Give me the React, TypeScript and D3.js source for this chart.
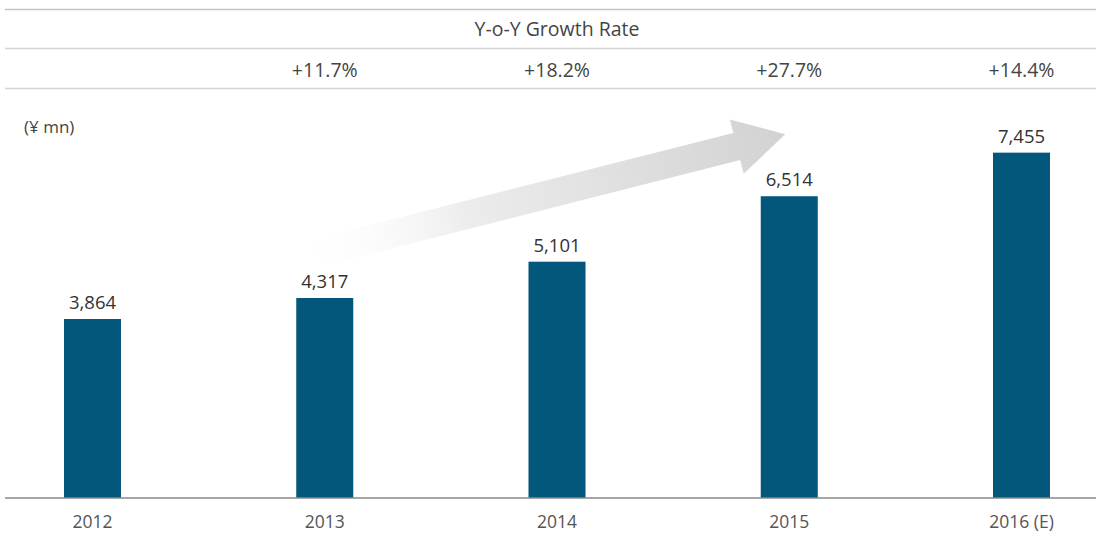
import * as d3 from 'd3'

const years = ['2012', '2013', '2014', '2015', '2016 (E)']
const sales = [3864, 4317, 5101, 6514, 7455]
const growth = ['', '+11.7%', '+18.2%', '+27.7%', '+14.4%']
const unitLabel = '(¥ mn)'
const headerTitle = 'Y-o-Y Growth Rate'

export default function App() {
  const W = 1096
  const H = 536
  const baseY = 498
  const barW = 57
  const font = "'Open Sans', sans-serif"

  const x = d3.scalePoint<string>().domain(years).range([92.5, 1021.5])
  const y = d3.scaleLinear().domain([0, 8000]).range([baseY, baseY - 370.6])

  // growth arrow, from 2013 bar up towards 2015
  const ax0 = (x('2013') as number) - 28
  const ay0 = y(sales[1]) - 40
  const ax1 = (x('2015') as number) - 4
  const ay1 = y(sales[3]) - 62
  const len = Math.hypot(ax1 - ax0, ay1 - ay0)
  const ang = (Math.atan2(ay1 - ay0, ax1 - ax0) * 180) / Math.PI
  const shaft = 14
  const head = 28
  const headLen = 50
  const arrowPath = `M0,${-shaft} L${len - headLen},${-shaft} L${len - headLen},${-head} L${len},0 L${len - headLen},${head} L${len - headLen},${shaft} L0,${shaft} Z`

  return (
    <svg width={W} height={H} style={{ position: 'absolute', left: 0, top: 0, background: '#fff' }}>
      <defs>
        <linearGradient id="arrowGrad" x1="0" y1="0" x2={len} y2="0" gradientUnits="userSpaceOnUse">
          <stop offset="0" stopColor="#ffffff" stopOpacity={0} />
          <stop offset="0.35" stopColor="#ececec" stopOpacity={1} />
          <stop offset="1" stopColor="#d2d2d2" />
        </linearGradient>
      </defs>

      {/* header table */}
      <line x1={5} x2={W} y1={9.5} y2={9.5} stroke="#c4c4c4" strokeWidth={1.5} />
      <line x1={5} x2={W} y1={48.5} y2={48.5} stroke="#d4d4d4" strokeWidth={1.5} />
      <line x1={5} x2={W} y1={88.5} y2={88.5} stroke="#d4d4d4" strokeWidth={1.5} />
      <text x={557} y={36} textAnchor="middle" fontFamily={font} fontSize={19.5} fill="#444">
        {headerTitle}
      </text>
      {growth.map((g, i) => (
        <text key={'g' + i} x={x(years[i])} y={77} textAnchor="middle" fontFamily={font} fontSize={19.5} fill="#444">
          {g}
        </text>
      ))}

      <text x={24} y={133} fontFamily={font} fontSize={17} fill="#444">
        {unitLabel}
      </text>

      <g transform={`translate(${ax0},${ay0}) rotate(${ang})`}>
        <path d={arrowPath} fill="url(#arrowGrad)" />
      </g>

      {sales.map((v, i) => (
        <g key={years[i]}>
          <rect
            x={(x(years[i]) as number) - barW / 2}
            y={y(v)}
            width={barW}
            height={baseY - y(v)}
            fill="#02577a"
          />
          <text
            x={x(years[i])}
            y={y(v) - 10}
            textAnchor="middle"
            fontFamily={font}
            fontSize={18.5}
            fill="#333"
          >
            {d3.format(',')(v)}
          </text>
          <text x={x(years[i])} y={528} textAnchor="middle" fontFamily={font} fontSize={17.5} fill="#555">
            {years[i]}
          </text>
        </g>
      ))}

      <line x1={5} x2={W} y1={baseY} y2={baseY} stroke="#888" strokeWidth={1.5} />
    </svg>
  )
}
